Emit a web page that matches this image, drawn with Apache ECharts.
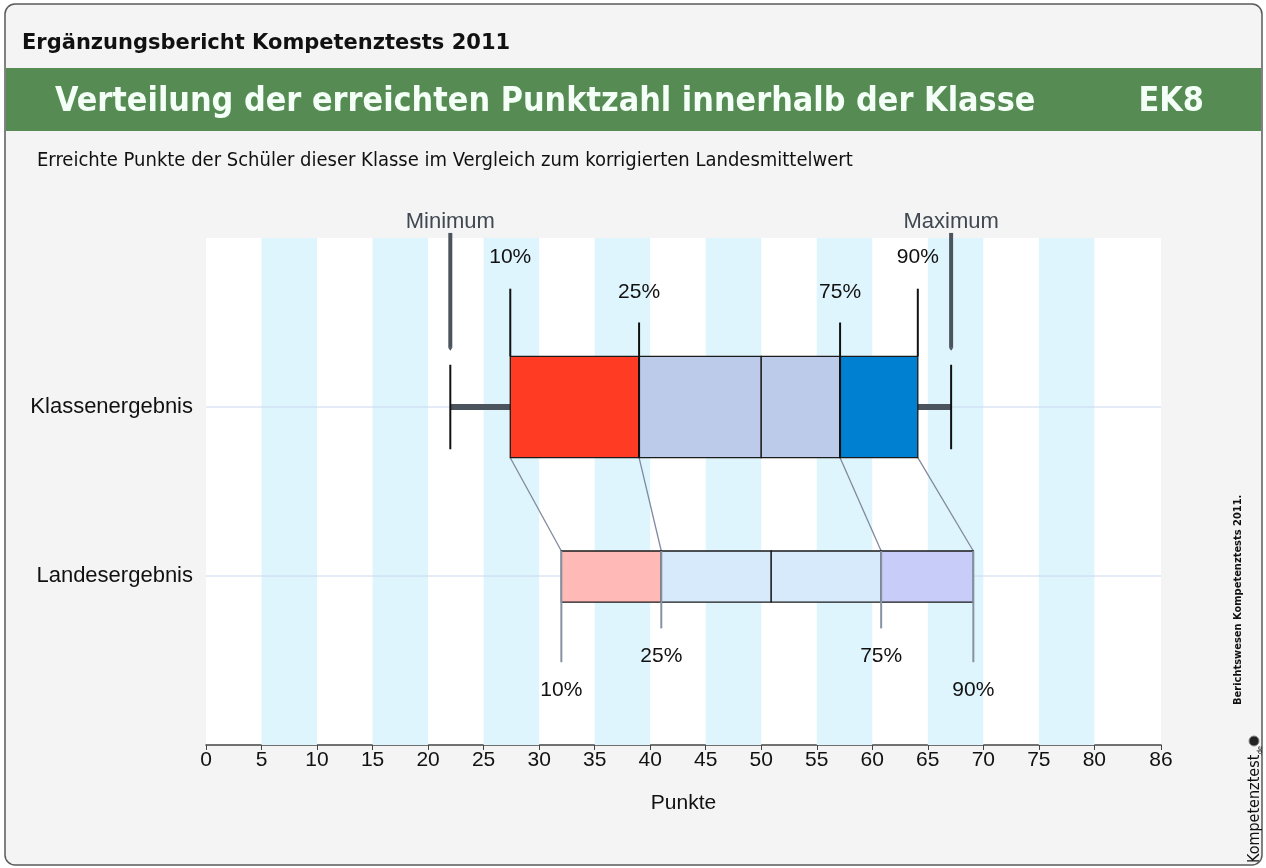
<!DOCTYPE html>
<html>
<head>
<meta charset="utf-8">
<script src="https://cdn.jsdelivr.net/npm/echarts@6/dist/echarts.min.js"></script>
<style>
  html, body { margin: 0; padding: 0; background: #fff; }
  #chart { width: 1266px; height: 868px; }
</style>
</head>
<body>
<div id="chart"></div>
<script>
let myChart = echarts.init(document.getElementById('chart'));

// Daten
const groups = ['Landesergebnis', 'Klassenergebnis'];   // y = 1, y = 2
const klasse = [22.0, 27.4, 39.0, 50.0, 57.1, 64.1, 67.1]; // Min, 10%, 25%, Median, 75%, 90%, Max
const land = [32.0, 41.0, 50.9, 60.8, 69.1];               // 10%, 25%, Median, 75%, 90%
const pctLabels = ['10%', '25%', '75%', '90%'];
const xTicks = [0, 5, 10, 15, 20, 25, 30, 35, 40, 45, 50, 55, 60, 65, 70, 75, 80, 86];
const bandStarts = [5, 15, 25, 35, 45, 55, 65, 75];

const klasseColors = ['#ff3b23', '#bccbe9', '#bccbe9', '#0080d1'];
const landColors = ['#ffbab8', '#d6eafb', '#d6eafb', '#c7ccf8'];

const helv = 'Liberation Sans, Arial, sans-serif';
const cond = 'DejaVu Sans Condensed, DejaVu Sans, sans-serif';
const dejavu = 'DejaVu Sans, sans-serif';

function renderAll(params, api) {
  const c = (x, y) => api.coord([x, y]);
  const kids = [];
  const line = (p1, p2, color, w) => kids.push({
    type: 'line', shape: { x1: p1[0], y1: p1[1], x2: p2[0], y2: p2[1] },
    style: { stroke: color, lineWidth: w }
  });
  const text = (p, t, size, color) => kids.push({
    type: 'text', x: p[0], y: p[1],
    style: { text: t, fontSize: size, fill: color, fontFamily: helv, align: 'center', verticalAlign: 'middle' }
  });

  // horizontale Hilfslinien
  line(c(0, 2), c(86, 2), '#c9d8ef', 1);
  line(c(0, 1), c(86, 1), '#c9d8ef', 1);

  // Verbindungslinien Klasse -> Land
  const kp = [klasse[1], klasse[2], klasse[4], klasse[5]];
  const lp = [land[0], land[1], land[3], land[4]];
  for (let i = 0; i < 4; i++) {
    line(c(kp[i], 1.7), c(lp[i], 1.148), '#7f8a9c', 1.3);
  }

  // Whisker
  line(c(klasse[0], 2), c(klasse[1], 2), '#4b535d', 6);
  line(c(klasse[5], 2), c(klasse[6], 2), '#4b535d', 6);
  line(c(klasse[0], 2.25), c(klasse[0], 1.75), '#111', 2);
  line(c(klasse[6], 2.25), c(klasse[6], 1.75), '#111', 2);

  // Minimum / Maximum Pfeile
  [[klasse[0], 'Minimum'], [klasse[6], 'Maximum']].forEach(function (m) {
    const top = c(m[0], 3.03), bot = c(m[0], 2.35);
    line(top, bot, '#4b535d', 4);
    kids.push({
      type: 'polygon',
      shape: { points: [[bot[0] - 2, bot[1]], [bot[0] + 2, bot[1]], [bot[0], bot[1] + 3]] },
      style: { fill: '#4b535d' }
    });
    const lp2 = c(m[0], 3.095);
    kids.push({
      type: 'text', x: lp2[0], y: lp2[1],
      style: { text: m[1], fontSize: 22, fill: '#3f4750', fontFamily: helv, align: 'center', verticalAlign: 'middle' }
    });
  });

  // Klassenergebnis Box
  for (let i = 0; i < 4; i++) {
    const a = c(klasse[i + 1], 2.3), b = c(klasse[i + 2], 1.7);
    kids.push({
      type: 'rect', shape: { x: a[0], y: a[1], width: b[0] - a[0], height: b[1] - a[1] },
      style: { fill: klasseColors[i], stroke: '#1a1a1a', lineWidth: 1.3 }
    });
  }
  // Perzentil-Linien oben
  const kTop = [2.7, 2.5, 2.5, 2.7];
  const kLab = [2.888, 2.68, 2.68, 2.888];
  for (let i = 0; i < 4; i++) {
    line(c(kp[i], 2.3), c(kp[i], kTop[i]), '#111', 2);
    text(c(kp[i], kLab[i]), pctLabels[i], 21, '#111');
  }
  line(c(klasse[2], 2.3), c(klasse[2], 1.7), '#111', 2);
  line(c(klasse[4], 2.3), c(klasse[4], 1.7), '#111', 2);

  // Landesergebnis Box
  for (let i = 0; i < 4; i++) {
    const a = c(land[i], 1.148), b = c(land[i + 1], 0.845);
    kids.push({
      type: 'rect', shape: { x: a[0], y: a[1], width: b[0] - a[0], height: b[1] - a[1] },
      style: { fill: landColors[i], stroke: '#1a1a1a', lineWidth: 1.3 }
    });
  }
  const lBot = [0.49, 0.69, 0.69, 0.49];
  const lLab = [0.325, 0.527, 0.527, 0.325];
  for (let i = 0; i < 4; i++) {
    line(c(lp[i], 1.148), c(lp[i], lBot[i]), '#8691a2', 2);
    text(c(lp[i], lLab[i]), pctLabels[i], 21, '#111');
  }

  return { type: 'group', children: kids };
}

option = {
  animation: false,
  backgroundColor: '#ffffff',
  graphic: [
    { type: 'rect', z: -10, shape: { x: 5, y: 4, width: 1257, height: 861, r: 10 },
      style: { fill: '#f4f4f4', stroke: '#5a5a5a', lineWidth: 1.5 } },
    { type: 'rect', z: -9, shape: { x: 6, y: 68, width: 1255, height: 63 },
      style: { fill: '#568c54' } },
    { type: 'text', left: 22, top: 33,
      style: { text: 'Ergänzungsbericht Kompetenztests 2011', fontSize: 21, fontWeight: 'bold', fill: '#111', fontFamily: dejavu } },
    { type: 'text', left: 55, top: 85,
      style: { text: 'Verteilung der erreichten Punktzahl innerhalb der Klasse', fontSize: 33.8, fontWeight: 'bold', fill: '#f4fff8', fontFamily: cond } },
    { type: 'text', right: 62, top: 85,
      style: { text: 'EK8', fontSize: 33.8, fontWeight: 'bold', fill: '#f4fff8', fontFamily: cond } },
    { type: 'text', left: 37, top: 151,
      style: { text: 'Erreichte Punkte der Schüler dieser Klasse im Vergleich zum korrigierten Landesmittelwert', fontSize: 20, fill: '#111', fontFamily: cond } },
    { type: 'text', x: 1233, y: 705, rotation: Math.PI / 2,
      style: { text: 'Berichtswesen Kompetenztests 2011.', fontSize: 11, fontWeight: 'bold', fill: '#111', fontFamily: cond } },
    { type: 'text', x: 1247, y: 863, rotation: Math.PI / 2,
      style: { text: 'Kompetenztest', fontSize: 16, fill: '#111', fontFamily: cond } },
    { type: 'text', x: 1257, y: 756, rotation: Math.PI / 2,
      style: { text: '.de', fontSize: 7, fill: '#111', fontFamily: cond } },
    { type: 'circle', shape: { cx: 1254, cy: 741, r: 5 },
      style: { fill: '#222', stroke: '#888', lineWidth: 1 } }
  ],
  grid: {
    left: 206,
    right: 105,
    top: 238,
    bottom: 123,
    show: true,
    backgroundColor: '#ffffff',
    borderWidth: 0
  },
  xAxis: {
    type: 'value',
    min: 0,
    max: 86,
    name: 'Punkte',
    nameLocation: 'middle',
    nameGap: 48,
    nameTextStyle: { fontSize: 21, color: '#111', fontFamily: helv },
    axisLine: { show: true, lineStyle: { color: '#444', width: 1.5 } },
    axisTick: { show: true, length: 5, lineStyle: { color: '#444' }, customValues: xTicks },
    axisLabel: { fontSize: 21, color: '#111', fontFamily: helv, margin: 5, customValues: xTicks },
    splitLine: { show: false }
  },
  yAxis: {
    type: 'value',
    min: 0,
    max: 3,
    axisLine: { show: false },
    axisTick: { show: false },
    splitLine: { show: false },
    axisLabel: {
      fontSize: 22, color: '#111', fontFamily: helv, margin: 13,
      customValues: [1, 2],
      formatter: function (v) { return groups[v - 1] || ''; }
    }
  },
  series: [
    {
      name: 'Bänder',
      type: 'line',
      data: [],
      markArea: {
        silent: true,
        itemStyle: { color: '#dff5fd' },
        data: bandStarts.map(function (s) { return [{ xAxis: s }, { xAxis: s + 5 }]; })
      }
    },
    {
      name: 'Verteilung',
      type: 'custom',
      data: [[0, 0]],
      renderItem: renderAll,
      clip: false,
      z: 5
    }
  ]
};

myChart.setOption(option);
</script>
</body>
</html>
